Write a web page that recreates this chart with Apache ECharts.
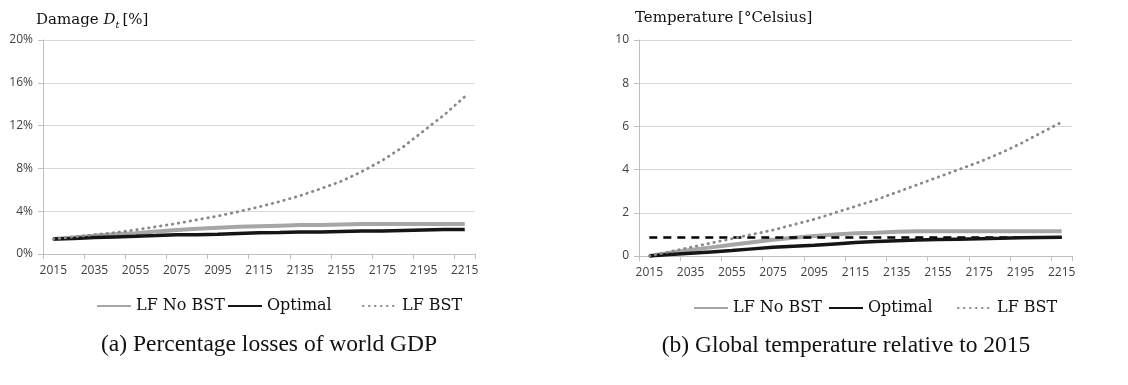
<!DOCTYPE html>
<html>
<head>
<meta charset="utf-8">
<script src="https://cdn.jsdelivr.net/npm/echarts@6/dist/echarts.min.js"></script>
<style>
html,body{margin:0;padding:0;background:#fff;}
#c{width:1128px;height:385px;}
</style>
</head>
<body>
<div id="c"></div>
<script>
// ---- data ----
const years = ['2015','2025','2035','2045','2055','2065','2075','2085','2095','2105','2115',
               '2125','2135','2145','2155','2165','2175','2185','2195','2205','2215'];
const seriesNames = ['LF No BST', 'Optimal', 'LF BST'];
// Damage D_t [%]
const damageNoBST   = [1.4,1.55,1.7,1.85,1.95,2.1,2.25,2.35,2.45,2.55,2.6,2.65,2.7,2.7,2.75,2.8,2.8,2.8,2.8,2.8,2.8];
const damageOptimal = [1.4,1.45,1.55,1.6,1.65,1.72,1.8,1.8,1.85,1.92,1.98,2.0,2.05,2.05,2.1,2.15,2.15,2.2,2.25,2.3,2.3];
const damageBST     = [1.4,1.6,1.8,2.0,2.25,2.55,2.85,3.2,3.55,3.95,4.4,4.9,5.45,6.1,6.8,7.7,8.75,10.0,11.5,13.0,14.7];
// Temperature [deg C] relative to 2015
const tempNoBST     = [0,0.15,0.28,0.4,0.52,0.64,0.75,0.85,0.93,1.0,1.05,1.08,1.12,1.15,1.15,1.15,1.15,1.15,1.15,1.15,1.15];
const tempOptimal   = [0,0.07,0.13,0.19,0.25,0.33,0.4,0.45,0.5,0.56,0.62,0.67,0.71,0.74,0.76,0.78,0.8,0.82,0.85,0.86,0.87];
const tempBST       = [0,0.2,0.4,0.6,0.8,1.0,1.2,1.45,1.7,2.0,2.3,2.6,2.95,3.3,3.65,4.0,4.35,4.75,5.2,5.7,6.2];
const tempTarget    = [0.86,0.86,0.86,0.86,0.86,0.86,0.86,0.86,0.86,0.86,0.86,0.86,0.86,0.86,0.86,0.86,0.86,0.86,0.86,0.86,0.86];
// tick labels
const damageTicks = {min:0, max:20, interval:4};
const tempTicks   = {min:0, max:10, interval:2};

// ---- styles ----
const SERIF = '"DejaVu Serif", serif';
const SANS = '"Open Sans", sans-serif';
const axisGray = '#bfbfbf';
const gridGray = '#d9d9d9';
const styles = {
  'LF No BST': {color:'#a6a6a6', width:4, type:'solid'},
  'Optimal':   {color:'#151515', width:3.5, type:'solid'},
  'LF BST':    {color:'#888888', width:2.8, type:[0.5,5.5], cap:'round'}
};

function xAxis(gi){
  return {
    type:'category', gridIndex:gi, data:years, boundaryGap:true,
    axisLine:{show:true, lineStyle:{color:axisGray, width:1}},
    axisTick:{show:true, interval:1, length:5, lineStyle:{color:axisGray}},
    axisLabel:{interval:1, margin:11, fontFamily:SANS, fontSize:12, color:'#404040'},
    splitLine:{show:false}
  };
}
function yAxis(gi, t, fmt){
  return {
    type:'value', gridIndex:gi, min:t.min, max:t.max, interval:t.interval,
    axisLine:{show:true, lineStyle:{color:axisGray, width:1}},
    axisTick:{show:true, length:5, lineStyle:{color:axisGray}},
    axisLabel:{margin:10, fontFamily:SANS, fontSize:12, color:'#404040', formatter:fmt},
    splitLine:{show:true, lineStyle:{color:gridGray, width:1}}
  };
}
function line(name, data, gi){
  const s = styles[name];
  return {
    name:name, type:'line', xAxisIndex:gi, yAxisIndex:gi, data:data,
    showSymbol:false, symbol:'none', smooth:false, animation:false,
    lineStyle:{color:s.color, width:s.width, type:s.type, cap:s.cap||'butt'},
    itemStyle:{color:s.color}, z: name==='LF BST'?3:2
  };
}
function legendItem(name, left, top){
  return {
    data:[name], left:left, top:top, orient:'horizontal',
    itemWidth:34, itemHeight:14, padding:0, selectedMode:false,
    itemStyle:{opacity:0},
    textStyle:{fontFamily:SERIF, fontSize:16, color:'#111'}
  };
}

const chart = echarts.init(document.getElementById('c'), null, {renderer:'canvas'});
chart.setOption({
  animation:false,
  backgroundColor:'#fff',
  title:[
    {text:'{a|Damage }{d|D}{s|t}{a|[%]}', left:36, top:10, padding:0,
     textStyle:{fontWeight:'normal', rich:{
       a:{fontFamily:SERIF, fontWeight:'normal', fontSize:15, color:'#111', lineHeight:20, verticalAlign:'middle'},
       d:{fontFamily:SERIF, fontWeight:'normal', fontStyle:'italic', fontSize:15, color:'#111', lineHeight:20, verticalAlign:'middle'},
       s:{fontFamily:SERIF, fontWeight:'normal', fontStyle:'italic', fontSize:10, color:'#111', lineHeight:12, verticalAlign:'bottom', padding:[0,3,0,0]}
     }}},
    {text:'Temperature [°Celsius]', left:635, top:11, padding:0,
     textStyle:{fontFamily:SERIF, fontSize:15, fontWeight:'normal', color:'#111'}}
  ],
  grid:[
    {left:43, top:40, width:432, height:214},
    {left:639, top:40, width:433, height:216}
  ],
  xAxis:[xAxis(0), xAxis(1)],
  yAxis:[yAxis(0, damageTicks, '{value}%'), yAxis(1, tempTicks, '{value}')],
  legend:[
    legendItem('LF No BST', 96, 298),
    legendItem('Optimal', 227, 298),
    legendItem('LF BST', 362, 298),
    legendItem('LF No BST', 693, 300),
    legendItem('Optimal', 828, 300),
    legendItem('LF BST', 957, 300)
  ],
  series:[
    line('LF No BST', damageNoBST, 0),
    line('Optimal', damageOptimal, 0),
    line('LF BST', damageBST, 0),
    line('LF No BST', tempNoBST, 1),
    {
      name:'Reference', type:'line', xAxisIndex:1, yAxisIndex:1, data:tempTarget,
      showSymbol:false, symbol:'none', animation:false, z:2,
      lineStyle:{color:'#000', width:2.5, type:[8,6]}
    },
    line('Optimal', tempOptimal, 1),
    line('LF BST', tempBST, 1)
  ],
  graphic:[
    {type:'text', x:269, y:345, style:{text:'(a) Percentage losses of world GDP',
      font:'23.5px "Liberation Serif", serif', fill:'#111', textAlign:'center', textVerticalAlign:'middle'}},
    {type:'text', x:846, y:346, style:{text:'(b) Global temperature relative to 2015',
      font:'23.5px "Liberation Serif", serif', fill:'#111', textAlign:'center', textVerticalAlign:'middle'}}
  ]
});
</script>
</body>
</html>
